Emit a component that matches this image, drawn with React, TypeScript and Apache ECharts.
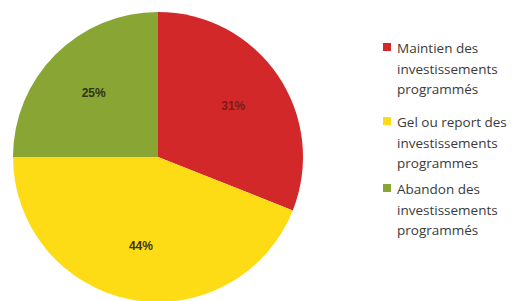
import React, { useEffect, useRef } from "react";
import * as echarts from "echarts";

const categories = [
  "Maintien des\ninvestissements\nprogrammés",
  "Gel ou report des\ninvestissements\nprogrammes",
  "Abandon des\ninvestissements\nprogrammés",
];
const values = [31, 44, 25];
const colors = ["#d3282a", "#fddc16", "#89a534"];
const labelColors = ["#7a1d18", "#3d3414", "#2f3414"];

export default function App() {
  const ref = useRef<HTMLDivElement>(null);
  useEffect(() => {
    if (!ref.current) return;
    const chart = echarts.init(ref.current, null, { renderer: "svg" });
    const data = categories.map((name, i) => ({
      name,
      value: values[i],
      itemStyle: { color: colors[i] },
    }));
    const legendTop = [38, 112, 179];
    const graphic: any[] = [];
    categories.forEach((name, i) => {
      graphic.push({
        type: "rect",
        left: 383,
        top: legendTop[i] + 5,
        shape: { width: 8, height: 8 },
        style: { fill: colors[i] },
      });
      graphic.push({
        type: "text",
        left: 397,
        top: legendTop[i],
        style: {
          text: name,
          fill: "#3a3a3a",
          font: '13.5px "Open Sans"',
          lineHeight: 20.5,
        },
      });
    });
    chart.setOption({
      animation: false,
      backgroundColor: "#ffffff",
      graphic,
      series: [
        {
          type: "pie",
          center: [158, 157],
          radius: [0, 145],
          startAngle: 90,
          clockwise: true,
          silent: true,
          label: { show: false },
          labelLine: { show: false },
          itemStyle: { borderWidth: 0 },
          data,
        },
        {
          type: "pie",
          center: [158, 157],
          radius: [0, 176],
          startAngle: 90,
          clockwise: true,
          silent: true,
          itemStyle: { color: "transparent", borderWidth: 0 },
          label: {
            show: true,
            position: "inside",
            formatter: "{c}%",
            fontFamily: '"Liberation Sans"',
            fontWeight: "bold",
            fontSize: 12,
          },
          labelLine: { show: false },
          data: categories.map((name, i) => ({
            name,
            value: values[i],
            label: { color: labelColors[i] },
          })),
        },
      ],
    });
    return () => chart.dispose();
  }, []);
  return (
    <div
      ref={ref}
      style={{ position: "fixed", left: 0, top: 0, width: 524, height: 301 }}
    />
  );
}
